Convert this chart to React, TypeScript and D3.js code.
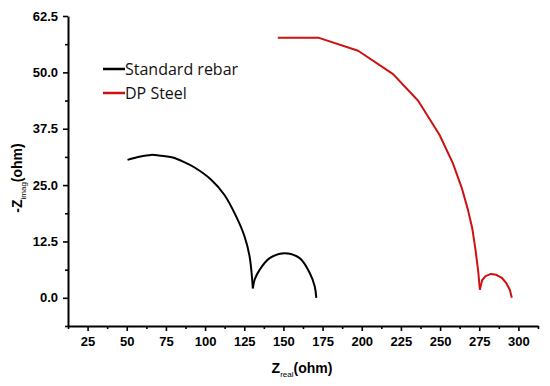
import React, { useRef, useEffect } from 'react'
import { select, scaleLinear, axisBottom, axisLeft, line, curveCatmullRom, curveLinear, range, minIndex } from 'd3'

// Nyquist data: [Z real, -Z imag]
const standardRebar: [number, number][] = [
  [50.5, 30.6], [58, 31.3], [65.6, 31.7], [72, 31.5], [79.4, 31.1], [86, 30.2], [93.3, 28.9],
  [103.9, 26.2], [112.4, 22.8], [119.9, 18.0], [125.2, 13.6], [128.4, 9.2], [130.5, 2.1],
  [131.6, 4.0], [134.8, 6.2], [141.2, 8.8], [150.8, 9.9], [160.4, 8.8], [166.8, 5.5], [170, 2.5], [171, 0],
]
const dpSteel: [number, number][] = [
  [146.4, 57.7], [172.2, 57.7], [197.7, 54.8], [220, 49.6], [236, 43.7], [249.7, 36.1],
  [258.2, 29.8], [264, 24.2], [267.8, 19.5], [270.5, 15.5], [272.5, 10.9], [274.3, 6.0], [275.4, 1.8],
  [276.8, 3.9], [279, 4.8], [282.5, 5.3], [285.8, 5.1], [289.5, 4.4], [292.2, 3.3], [294.5, 1.8], [295.8, 0],
]
const seriesNames = ['Standard rebar', 'DP Steel']
const seriesColors = ['#000000', '#cc1111']
const seriesCurves = [curveCatmullRom.alpha(0.5), curveLinear]

const xMajor = range(25, 301, 25)
const xMinor = range(12.5, 313, 25)
const yMajor = [0, 12.5, 25, 37.5, 50, 62.5]
const yMinor = [-6.25, 6.25, 18.75, 31.25, 43.75, 56.25]

const width = 550
const height = 386
const margin = { top: 16, right: 12, bottom: 60, left: 68 }

// split a series at its cusp (lowest interior point) into two arcs
const arcs = (data: [number, number][]) => {
  const inner = data.slice(1, -1)
  const k = minIndex(inner, d => d[1]) + 1
  return [data.slice(0, k + 1), data.slice(k)]
}

export default function App() {
  const xRef = useRef<SVGGElement>(null)
  const yRef = useRef<SVGGElement>(null)

  const x = scaleLinear().domain([12.5, 312.5]).range([margin.left, width - margin.right])
  const y = scaleLinear().domain([-6.25, 62.5]).range([height - margin.bottom, margin.top])

  useEffect(() => {
    const style = (g: any) => {
      g.select('.domain').attr('stroke-width', 2)
      g.selectAll('.tick line').attr('stroke-width', 1.6)
      g.selectAll('text')
        .attr('font-family', '"Liberation Sans", Arial, sans-serif')
        .attr('font-weight', 'bold')
        .attr('font-size', 13)
        .attr('fill', '#000')
    }
    const gx = select(xRef.current)
    gx.selectAll('*').remove()
    gx.append('g').call(axisBottom(x).tickValues(xMinor).tickSize(3).tickFormat(() => ''))
      .call(g => g.select('.domain').remove())
      .selectAll('line').attr('stroke-width', 1.6)
    gx.append('g').call(axisBottom(x).tickValues(xMajor).tickSize(5).tickSizeOuter(0).tickPadding(6))
      .call(style)

    const gy = select(yRef.current)
    gy.selectAll('*').remove()
    gy.append('g').call(axisLeft(y).tickValues(yMinor).tickSize(3).tickFormat(() => ''))
      .call(g => g.select('.domain').remove())
      .selectAll('line').attr('stroke-width', 1.6)
    gy.append('g').call(axisLeft(y).tickValues(yMajor).tickSize(5).tickSizeOuter(0).tickPadding(5)
      .tickFormat(d => (d as number).toFixed(1)))
      .call(style)
  }, [])

  const legendFont = '"Open Sans", "Noto Sans", sans-serif'
  const labelFont = '"Liberation Sans", Arial, sans-serif'

  return (
    <svg width={width} height={height} style={{ position: 'absolute', left: 0, top: 0, background: '#fff' }}>
      {[standardRebar, dpSteel].map((s, i) => {
        const path = line<[number, number]>()
          .x(d => x(d[0]))
          .y(d => y(d[1]))
          .curve(seriesCurves[i])
        return arcs(s).map((a, j) => (
          <path key={`${i}-${j}`} d={path(a) || ''} fill="none" stroke={seriesColors[i]}
            strokeWidth={2} strokeLinejoin="round" />
        ))
      })}

      <g ref={xRef} transform={`translate(0,${height - margin.bottom})`} />
      <g ref={yRef} transform={`translate(${margin.left},0)`} />

      {seriesNames.map((name, i) => (
        <g key={name} transform={`translate(103,${69 + i * 24})`}>
          <line x1={0} x2={22} y1={0} y2={0} stroke={seriesColors[i]} strokeWidth={2.5} />
          <text x={22} y={6} fontFamily={legendFont} fontSize={16} fill="#111">{name}</text>
        </g>
      ))}

      <text x={302} y={373} textAnchor="middle" fontFamily={labelFont} fontWeight="bold" fontSize={14} fill="#000">
        Z<tspan fontSize={8} fontWeight="normal" dy={4}>real</tspan><tspan dy={-4}>(ohm)</tspan>
      </text>
      <text transform="translate(22,178) rotate(-90)" textAnchor="middle" fontFamily={labelFont} fontWeight="bold" fontSize={14} fill="#000">
        -Z<tspan fontSize={8} fontWeight="normal" dy={4}>imag</tspan><tspan dy={-4}>(ohm)</tspan>
      </text>
    </svg>
  )
}
